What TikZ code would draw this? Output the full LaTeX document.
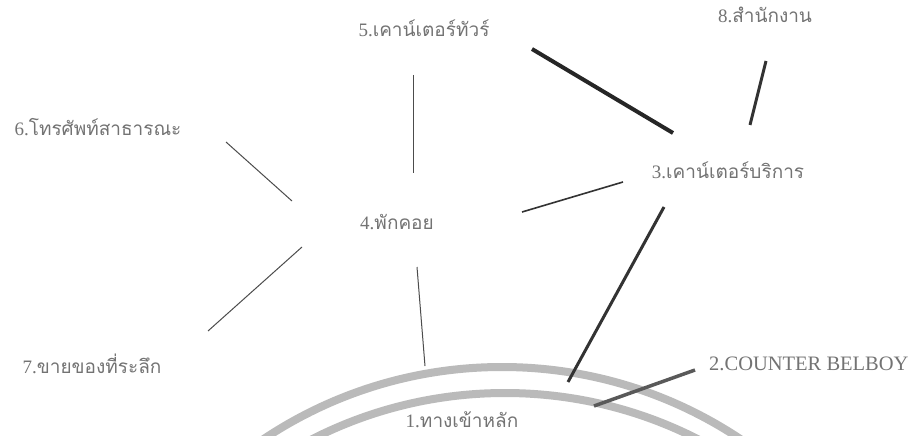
\documentclass[tikz,border=0pt]{standalone}
\usepackage{fontspec}
\setmainfont{Liberation Serif}
\newfontfamily\thaifont[Script=Thai]{Loma}
\newcommand{\thx}[1]{{\thaifont #1}}
\begin{document}
\begin{tikzpicture}[x=1pt,y=-1pt,
  lbl/.style={text=black!55, font=\fontsize{19}{22}\selectfont, inner sep=0pt},
  thinline/.style={draw=black!70, line width=1pt},
  midline/.style={draw=black!80, line width=1.6pt},
  thickline/.style={draw=black!80, line width=3pt},
  heavyline/.style={draw=black!85, line width=4pt},
  band/.style={draw=black!27, line width=8pt}]
\useasboundingbox (0,0) rectangle (911,436);
\fill[white] (0,0) rectangle (911,436);
% arcs (main entrance)
\begin{scope}
\clip (0,0) rectangle (911,436);
\draw[band] (502,797) circle[radius=430];
\draw[band] (505,818) circle[radius=425];
\end{scope}
% labels
\node[lbl] (n5) at (424,28) {5.\thx{เคาน์เตอร์ทัวร์}};
\node[lbl] (n8) at (765,15) {8.\thx{สำนักงาน}};
\node[lbl] (n6) at (98,127) {6.\thx{โทรศัพท์สาธารณะ}};
\node[lbl] (n3) at (728,170) {3.\thx{เคาน์เตอร์บริการ}};
\node[lbl] (n4) at (397,222) {4.\thx{พักคอย}};
\node[lbl] (n7) at (92,364) {7.\thx{ขายของที่ระลึก}};
\node[lbl, anchor=west, font=\fontsize{20.5}{24}\selectfont] (n2) at (709,364) {2.COUNTER BELBOY};
\node[lbl] (n1) at (462,420) {1.\thx{ทางเข้าหลัก}};
% connector ends
\coordinate (a5s) at (413,75);   \coordinate (a4n) at (413,173);
\coordinate (b5) at (532,49);    \coordinate (b3) at (673,133);
\coordinate (c8) at (766,61);    \coordinate (c3) at (750,125);
\coordinate (d3) at (623,182);   \coordinate (d4) at (522,212);
\coordinate (e6) at (226,142);   \coordinate (e4) at (292,201);
\coordinate (f4) at (302,247);   \coordinate (f7) at (208,331);
\coordinate (g4) at (417,267);   \coordinate (g1) at (425,366);
\coordinate (h3) at (664,207);   \coordinate (h1) at (568,382);
\coordinate (i2) at (695,370);   \coordinate (i1) at (594,406);
% connectors
\draw[thinline] (a5s) -- (a4n);
\draw[heavyline] (b5) -- (b3);
\draw[thickline] (c8) -- (c3);
\draw[midline] (d3) -- (d4);
\draw[thinline] (e6) -- (e4);
\draw[thinline] (f4) -- (f7);
\draw[thinline] (g4) -- (g1);
\draw[thickline] (h3) -- (h1);
\draw[thickline, draw=black!65, line width=3.5pt] (i2) -- (i1);
\end{tikzpicture}
\end{document}
